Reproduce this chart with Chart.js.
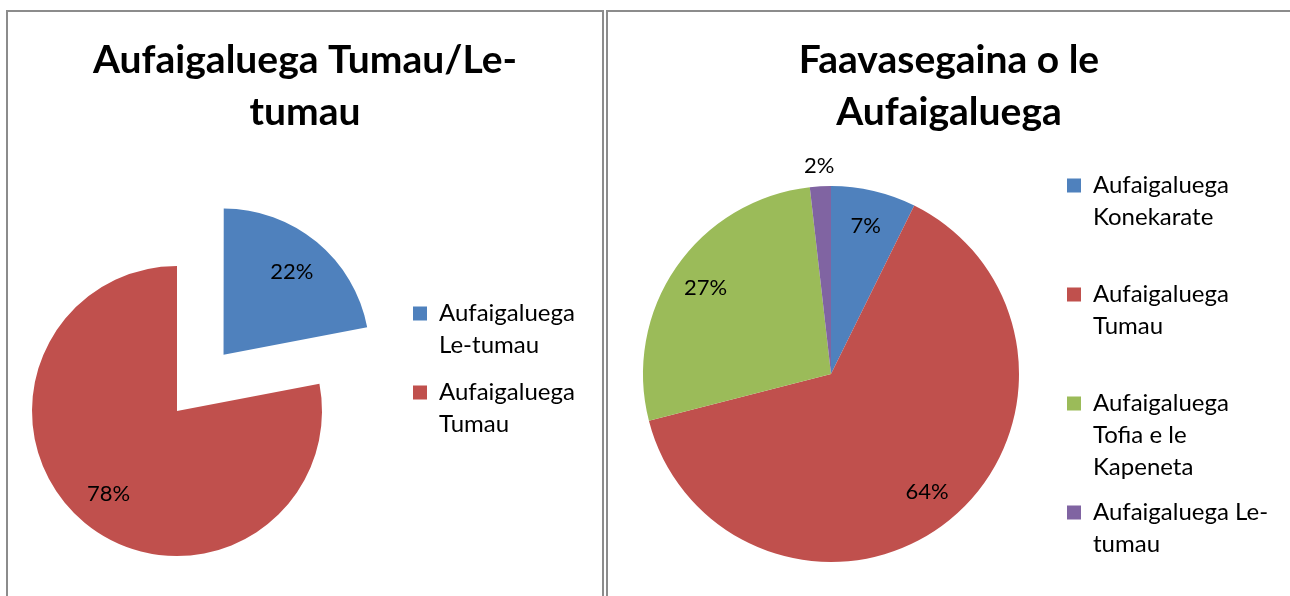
<!DOCTYPE html>
<html>
<head>
<meta charset="utf-8">
<script src="https://cdn.jsdelivr.net/npm/chart.js"></script>
<style>
  html, body { margin: 0; padding: 0; background: #ffffff; width: 1290px; height: 596px; overflow: hidden; }
  .panel { position: absolute; box-sizing: border-box; border: 2px solid #8c8c8c; background: #ffffff; overflow: hidden; }
  canvas { position: absolute; }
</style>
</head>
<body>
<div class="panel" style="left:6px; top:10px; width:598px; height:600px;">
  <canvas id="cL" width="700" height="584" style="left:-52px; top:0px;"></canvas>
</div>
<div class="panel" style="left:606px; top:10px; width:686px; height:600px;">
  <canvas id="cR" width="720" height="584" style="left:0px; top:0px;"></canvas>
</div>
<script>
// ---- Data: left chart ----
const leftTitle = ["Aufaigaluega Tumau/Le-", "tumau"];
const leftCategories = [["Aufaigaluega", "Le-tumau"], ["Aufaigaluega", "Tumau"]];
const leftValues = [22, 78];
const leftColors = ["#4F81BD", "#C0504D"];
const leftOffsets = [292, 0];

// ---- Data: right chart ----
const rightTitle = ["Faavasegaina o le", "Aufaigaluega"];
const rightCategories = [
  ["Aufaigaluega", "Konekarate"],
  ["Aufaigaluega", "Tumau"],
  ["Aufaigaluega", "Tofia e le", "Kapeneta"],
  ["Aufaigaluega Le-", "tumau"]
];
const rightValues = [7.3, 63.7, 27.2, 1.8];
const rightColors = ["#4F81BD", "#C0504D", "#9BBB59", "#8064A2"];

const FAMILY = "Lato, 'Open Sans', sans-serif";
const LEGEND_SIZE = 24;
const BOX_W = 14;
Chart.defaults.font.family = FAMILY;
Chart.defaults.color = "#000000";

// Percentage labels drawn at each arc's own geometry
const pctLabels = {
  id: 'pctLabels',
  afterDatasetsDraw(chart, args, opts) {
    const ctx = chart.ctx;
    const meta = chart.getDatasetMeta(0);
    ctx.save();
    ctx.font = opts.size + 'px ' + FAMILY;
    ctx.fillStyle = opts.color;
    ctx.textAlign = 'center';
    ctx.textBaseline = 'middle';
    meta.data.forEach((arc) => {
      const p = arc.getProps(['x', 'y', 'startAngle', 'endAngle', 'outerRadius', 'circumference'], true);
      const share = p.circumference / (2 * Math.PI);
      const mid = (p.startAngle + p.endAngle) / 2;
      const shift = (arc.options.offset || 0) / 4;
      const dist = share < opts.smallShare ? p.outerRadius + opts.outside : p.outerRadius * opts.inside;
      ctx.fillText(Math.round(share * 100) + '%', p.x + Math.cos(mid) * (shift + dist), p.y + Math.sin(mid) * (shift + dist));
    });
    ctx.restore();
  }
};

// Center the title over the whole panel
const titleSpan = {
  id: 'titleSpan',
  afterLayout(chart, args, opts) {
    const t = chart.titleBlock;
    if (t) { t.left = opts.left; t.right = opts.right; t.width = opts.right - opts.left; }
  }
};

function padLines(n) {
  return (chart) => {
    const items = Chart.overrides.doughnut.plugins.legend.labels.generateLabels(chart);
    return items.map((it, i) => {
      let text = Array.isArray(it.text) ? it.text.slice() : [it.text];
      if (i < items.length - 1) { while (text.length < n) text.push(''); }
      return Object.assign(it, { text });
    });
  };
}

// Width Chart.js will give the vertical legend (used to place it)
function legendWidth(categories, pad) {
  const c = document.createElement('canvas').getContext('2d');
  c.font = LEGEND_SIZE + 'px ' + FAMILY;
  let maxW = 0;
  categories.forEach(lines => {
    const longest = lines.reduce((a, b) => a.length > b.length ? a : b);
    maxW = Math.max(maxW, BOX_W + LEGEND_SIZE / 2 + c.measureText(longest).width);
  });
  return pad + maxW + 10;
}

function makeChart(id, cfg) {
  const canvas = document.getElementById(id);
  const padRight = canvas.width - cfg.legendLeft - legendWidth(cfg.categories, cfg.legendPad);
  return new Chart(canvas, {
    type: 'pie',
    data: {
      labels: cfg.categories,
      datasets: [{
        data: cfg.values,
        backgroundColor: cfg.colors,
        borderWidth: 0,
        offset: cfg.offsets || 0,
        clip: false
      }]
    },
    options: {
      responsive: false,
      animation: false,
      events: [],
      radius: cfg.radius,
      cutout: '0%',
      layout: { padding: { left: 0, top: 0, right: padRight, bottom: cfg.padBottom } },
      plugins: {
        tooltip: { enabled: false },
        title: {
          display: true,
          text: cfg.title,
          color: '#000000',
          font: { family: FAMILY, size: 39, weight: 'bold', lineHeight: '52px' },
          padding: { top: 22, bottom: cfg.titleBottom }
        },
        titleSpan: { left: cfg.titleLeft, right: cfg.titleRight },
        legend: {
          display: true,
          position: 'right',
          align: 'start',
          fullSize: false,
          labels: {
            boxWidth: BOX_W,
            boxHeight: 14,
            padding: cfg.legendPad,
            color: '#000000',
            font: { family: FAMILY, size: LEGEND_SIZE, lineHeight: '32px' },
            generateLabels: padLines(cfg.legendLines)
          }
        },
        pctLabels: { size: 22, color: '#000000', inside: cfg.labelInside, outside: 20, smallShare: 0.05 }
      }
    },
    plugins: [pctLabels, titleSpan]
  });
}

makeChart('cL', {
  title: leftTitle, categories: leftCategories, values: leftValues, colors: leftColors, offsets: leftOffsets,
  radius: 145, legendLeft: 442, padBottom: 60.5, titleBottom: 148.5, titleLeft: 52, titleRight: 646,
  legendPad: 15, legendLines: 2, labelInside: 0.74
});

makeChart('cR', {
  title: rightTitle, categories: rightCategories, values: rightValues, colors: rightColors,
  radius: 188, legendLeft: 446, padBottom: 8.5, titleBottom: 22.5, titleLeft: 0, titleRight: 682,
  legendPad: 13, legendLines: 3, labelInside: 0.81
});
</script>
</body>
</html>
